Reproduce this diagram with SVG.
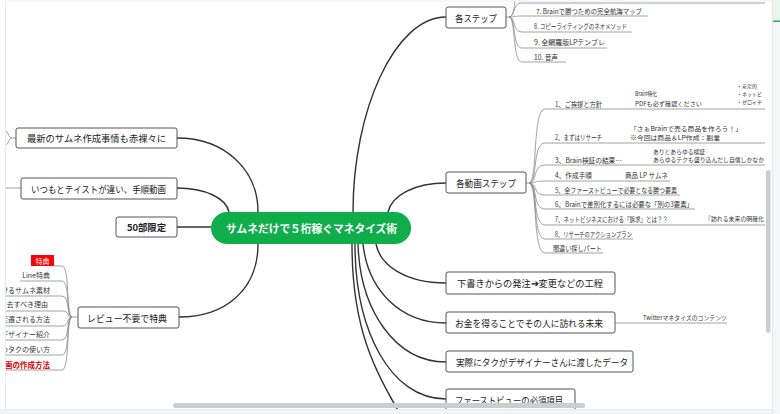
<svg xmlns="http://www.w3.org/2000/svg" width="780" height="414" viewBox="0 0 780 414">
<defs>
<style>
.t{font-family:"Noto Sans CJK JP","Noto Sans",sans-serif;fill:#222;dominant-baseline:central}
.box{fill:#fff;stroke:#555;stroke-width:1}
.conn{fill:none;stroke:#333;stroke-width:1.4}
.sub{fill:none;stroke:#8a8a8a;stroke-width:0.8}
.bt{font-size:9.5px}
.rt{font-size:7px;fill:#333}
.st{font-size:6px;fill:#333}
.lt{font-size:7px;fill:#333}
</style>
<clipPath id="canvas"><rect x="5" y="1" width="760" height="408"/></clipPath>
</defs>
<rect x="0" y="0" width="780" height="414" fill="#fff"/>
<g clip-path="url(#canvas)">
<g id="connectors">
<path class="conn" d="M353,212 C353,110 395,17 446,17"/>
<path class="conn" d="M388,212 C392,195 415,183 446,183"/>
<path class="conn" d="M177,138 C225,138 258,170 258,212"/>
<path class="conn" d="M177,188 C205,188 226,198 229,212"/>
<path class="conn" d="M177,227 L211,227"/>
<path class="conn" d="M179,317 C225,317 258,290 258,244"/>
<path class="conn" d="M376,244 C380,265 405,283 446,283"/>
<path class="conn" d="M363,244 C368,290 400,323 446,323"/>
<path class="conn" d="M358,244 C360,310 395,362 446,362"/>
<path class="conn" d="M355,244 C355,330 390,399 446,399"/>
<path class="conn" d="M352,244 C352,330 375,370 400,414"/>
<!-- 各ステップ children -->
<path class="sub" d="M506,17 L509,17"/>
<path class="sub" d="M509,17 C514,17 515,2 516,-8"/>
<path class="sub" d="M509,17 C515,17 513,3 521,3 L765,3"/>
<path class="sub" d="M509,17 C515,17 514,16 522,16 L648,16"/>
<path class="sub" d="M509,17 C516,17 512,32 522,32 L632,32"/>
<path class="sub" d="M509,17 C516,17 512,48 522,48 L607,48"/>
<path class="sub" d="M509,17 C516,17 512,62 522,62 L566,62"/>
<!-- 各動画ステップ children -->
<path class="sub" d="M526,183 L529,183"/>
<path class="sub" d="M529,183 C538,183 532,109 545,109 L765,109"/>
<path class="sub" d="M529,183 C538,183 532,143 545,143 L765,143"/>
<path class="sub" d="M529,183 C538,183 532,165 545,165 L765,165"/>
<path class="sub" d="M529,183 C538,183 532,181 545,181 L670,181"/>
<path class="sub" d="M529,183 C538,183 532,195 545,195 L680,195"/>
<path class="sub" d="M529,183 C538,183 532,209 545,209 L695,209"/>
<path class="sub" d="M529,183 C538,183 532,225 545,225 L765,225"/>
<path class="sub" d="M529,183 C538,183 532,239 545,239 L633,239"/>
<path class="sub" d="M529,183 C538,183 532,253 545,253 L603,253"/>
<!-- お金 child -->
<path class="sub" d="M615,323 L727,323"/>
<!-- left stubs -->
<path class="sub" d="M16,138 L12,138 M12,138 C8,138 9,131 5,131 M12,138 C8,138 9,145 5,145"/>
<path class="sub" d="M5,188 L21,188"/>
<!-- レビュー children -->
<path class="sub" d="M78,317 L72,317"/>
<path class="sub" d="M54,266 L62,266 M62,266 C70,266 66,317 72,317"/>
<path class="sub" d="M20,281 L62,281 C70,281 66,317 72,317"/>
<path class="sub" d="M5,296 L62,296 C70,296 66,317 72,317"/>
<path class="sub" d="M5,311 L62,311 C70,311 66,317 72,317"/>
<path class="sub" d="M5,326 L62,326 C70,326 66,317 72,317"/>
<path class="sub" d="M5,340 L62,340 C70,340 66,317 72,317"/>
<path class="sub" d="M5,355 L62,355 C70,355 66,317 72,317"/>
<path class="sub" d="M5,370 L62,370 C70,370 66,317 72,317"/>
</g>

<g id="center">
<rect x="211" y="212" width="200" height="32" rx="16" fill="#10ad4b"/>
<text class="t" x="311.5" y="228" text-anchor="middle" font-size="11" font-weight="bold" style="fill:#fff" textLength="171" lengthAdjust="spacingAndGlyphs">サムネだけで５桁稼ぐマネタイズ術</text>
</g>

<g id="node-kakustep">
<rect class="box" x="446" y="7" width="60" height="21" rx="2"/>
<text class="t bt" x="476" y="17.5" text-anchor="middle" textLength="42" lengthAdjust="spacingAndGlyphs">各ステップ</text>
</g>
<g id="node-kakustep-children">
<text class="t rt" x="536" y="11" textLength="106" lengthAdjust="spacingAndGlyphs">7. Brainで勝つための完全航海マップ</text>
<text class="t rt" x="534" y="26" textLength="93" lengthAdjust="spacingAndGlyphs">8. コピーライティングのネオメソッド</text>
<text class="t rt" x="534" y="42" textLength="71" lengthAdjust="spacingAndGlyphs">9. 全網羅版LPテンプレ</text>
<text class="t rt" x="534" y="57" textLength="24" lengthAdjust="spacingAndGlyphs">10. 音声</text>
</g>

<g id="node-douga">
<rect class="box" x="446" y="172" width="80" height="21" rx="2"/>
<text class="t bt" x="486" y="182.5" text-anchor="middle" textLength="60" lengthAdjust="spacingAndGlyphs">各動画ステップ</text>
</g>
<g id="node-douga-children">
<text class="t rt" x="555" y="104" textLength="47" lengthAdjust="spacingAndGlyphs">1、ご挨拶と方針</text>
<text class="t st" x="635" y="93" textLength="22" lengthAdjust="spacingAndGlyphs">Brain特化</text>
<text class="t st" x="635" y="103" textLength="67" lengthAdjust="spacingAndGlyphs">PDFも必ず確認ください</text>
<text class="t" x="737" y="85" font-size="5" style="fill:#333">・安定的</text>
<text class="t" x="737" y="93" font-size="5" style="fill:#333">・ネットビ</text>
<text class="t" x="737" y="101" font-size="5" style="fill:#333">・ゼロイチ</text>
<text class="t rt" x="555" y="137" textLength="47" lengthAdjust="spacingAndGlyphs">2、まずはリサーチ</text>
<text class="t st" x="630" y="128" textLength="112" lengthAdjust="spacingAndGlyphs">「さぁBrainで売る商品を作ろう！」</text>
<text class="t st" x="630" y="137" textLength="90" lengthAdjust="spacingAndGlyphs">※今回は商品＆LP作成：副業</text>
<text class="t rt" x="555" y="160" textLength="67" lengthAdjust="spacingAndGlyphs">3、Brain検証の結果…</text>
<text class="t st" x="653" y="151" textLength="52" lengthAdjust="spacingAndGlyphs">ありとあらゆる検証</text>
<text class="t st" x="653" y="159" textLength="111" lengthAdjust="spacingAndGlyphs">あらゆるテクも盛り込んだし自信しかなか</text>
<text class="t rt" x="555" y="175" textLength="37" lengthAdjust="spacingAndGlyphs">4、作成手順</text>
<text class="t rt" x="625" y="175" textLength="43" lengthAdjust="spacingAndGlyphs">商品 LP サムネ</text>
<text class="t rt" x="555" y="190" textLength="122" lengthAdjust="spacingAndGlyphs">5、全ファーストビューで必要となる勝つ要素</text>
<text class="t rt" x="555" y="204" textLength="138" lengthAdjust="spacingAndGlyphs">6、Brainで差別化するには必要な「別の3要素」</text>
<text class="t rt" x="555" y="219" textLength="113" lengthAdjust="spacingAndGlyphs">7、ネットビジネスにおける『訴求』とは？？</text>
<text class="t st" x="705" y="218" textLength="59" lengthAdjust="spacingAndGlyphs">『訪れる未来の明確化</text>
<text class="t rt" x="555" y="234" textLength="77" lengthAdjust="spacingAndGlyphs">8、リサーチのアクションプラン</text>
<text class="t rt" x="553" y="248" textLength="49" lengthAdjust="spacingAndGlyphs">間違い探しパート</text>
</g>

<g id="node-shitagaki">
<rect class="box" x="446" y="272" width="169" height="22" rx="2"/>
<text class="t bt" x="530" y="283" text-anchor="middle" textLength="146" lengthAdjust="spacingAndGlyphs">下書きからの発注➔変更などの工程</text>
</g>
<g id="node-okane">
<rect class="box" x="446" y="312" width="169" height="21" rx="2"/>
<text class="t bt" x="529" y="322.5" text-anchor="middle" textLength="148" lengthAdjust="spacingAndGlyphs">お金を得ることでその人に訪れる未来</text>
<text class="t st" x="643" y="317" textLength="84" lengthAdjust="spacingAndGlyphs">Twitterマネタイズのコンテンツ</text>
</g>
<g id="node-jissai">
<rect class="box" x="446" y="351" width="187" height="21" rx="2"/>
<text class="t bt" x="542" y="361.5" text-anchor="middle" textLength="172" lengthAdjust="spacingAndGlyphs">実際にタクがデザイナーさんに渡したデータ</text>
</g>
<g id="node-firstview">
<rect class="box" x="446" y="389" width="129" height="22" rx="2"/>
<text class="t bt" x="509" y="400" text-anchor="middle" textLength="108" lengthAdjust="spacingAndGlyphs">ファーストビューの必須項目</text>
</g>

<g id="node-saishin">
<rect class="box" x="16" y="128" width="161" height="20" rx="2"/>
<text class="t bt" x="96.5" y="138" text-anchor="middle" textLength="139" lengthAdjust="spacingAndGlyphs">最新のサムネ作成事情も赤裸々に</text>
</g>
<g id="node-itsumo">
<rect class="box" x="21" y="178" width="156" height="21" rx="2"/>
<text class="t bt" x="98.5" y="188.5" text-anchor="middle" textLength="135" lengthAdjust="spacingAndGlyphs">いつもとテイストが違い、手順動画</text>
</g>
<g id="node-50bu">
<rect class="box" x="116" y="217" width="61" height="20" rx="2"/>
<text class="t bt" x="146.5" y="227" text-anchor="middle" font-weight="bold" textLength="39" lengthAdjust="spacingAndGlyphs">50部限定</text>
</g>
<g id="node-review">
<rect class="box" x="78" y="307" width="101" height="21" rx="2"/>
<text class="t bt" x="127" y="317.5" text-anchor="middle" textLength="80" lengthAdjust="spacingAndGlyphs">レビュー不要で特典</text>
</g>
<g id="node-review-children">
<rect x="31" y="255" width="23" height="11" fill="#ff0000"/>
<text class="t" x="42.5" y="260.5" text-anchor="middle" font-size="7" style="fill:#fff">特典</text>
<text class="t lt" x="50" y="275" text-anchor="end">Line特典</text>
<text class="t lt" x="50" y="290" text-anchor="end">けるサムネ素材</text>
<text class="t lt" x="48" y="304" text-anchor="end">去すべき理由</text>
<text class="t lt" x="50" y="319" text-anchor="end">変遷される方法</text>
<text class="t lt" x="50" y="334" text-anchor="end">デザイナー紹介</text>
<text class="t lt" x="50" y="349" text-anchor="end">めタクの使い方</text>
<text class="t" x="50" y="364" text-anchor="end" font-size="7.5" font-weight="bold" style="fill:#e00000">画の作成方法</text>
</g>
</g>

<!-- frame / UI -->
<line x1="5.5" y1="1" x2="5.5" y2="409" stroke="#e4eaf0" stroke-width="1"/>
<line x1="5" y1="1" x2="772" y2="1" stroke="#e8edf2" stroke-width="1"/>
<rect x="772" y="0" width="8" height="414" fill="#f4f6f8"/>
<rect x="772" y="0" width="8" height="21" fill="#e7f5ed"/>
<rect x="772" y="20.5" width="8" height="1.5" fill="#1fae62"/>
<line x1="772.5" y1="0" x2="772.5" y2="414" stroke="#e3e7ec" stroke-width="1"/>
<rect x="0" y="409" width="772" height="5" fill="#f2f5f8"/>
<line x1="0" y1="409.5" x2="772" y2="409.5" stroke="#e6eaef" stroke-width="1"/>
<rect x="766" y="170" width="4.5" height="163" rx="2.2" fill="#cdcdcd"/>
<rect x="173" y="403" width="412" height="5" rx="2.5" fill="#cdcdcd"/>
</svg>
